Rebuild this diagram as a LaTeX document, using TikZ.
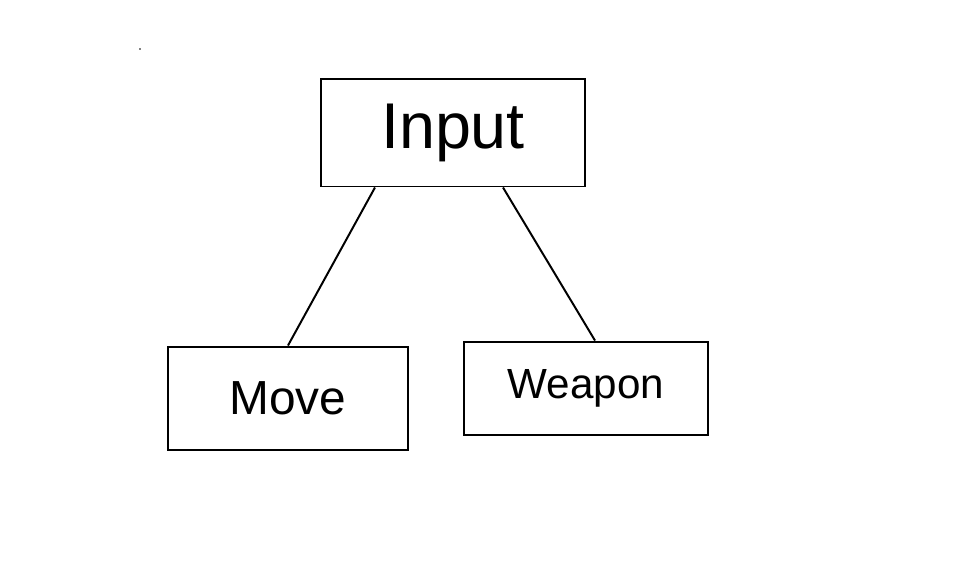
\documentclass[tikz,border=0pt]{standalone}
\usepackage{fontspec}
\setmainfont{Liberation Sans}

\begin{document}
\begin{tikzpicture}[x=0.025cm,y=-0.025cm]
  \useasboundingbox (0,0) rectangle (963,571);
  \tikzstyle{every node}=[draw, line width=1.4pt, inner sep=0pt]
  \tikzstyle{edge from parent}=[draw, line width=1.4pt]
  \tikzstyle{level 1}=[level distance=6.5cm, sibling distance=7.45cm]
  \fill (140,49) circle (0.9);
  \node (input) at (453,133) [minimum width=6.575cm, minimum height=2.675cm, font=\fontsize{46}{52}\selectfont] {Input}
    child[edge from parent path={([xshift=-1.95cm]\tikzparentnode.south) -- (\tikzchildnode.north)}]
      {node (move) [xshift=-0.4cm, yshift=-0.125cm, minimum width=6cm, minimum height=2.575cm, font=\fontsize{34}{40}\selectfont] {Move}}
    child[edge from parent path={([xshift=1.25cm]\tikzparentnode.south) -- ([xshift=0.225cm]\tikzchildnode.north)}]
      {node (weapon) [xshift=-0.4cm, yshift=0.125cm, minimum width=6.1cm, minimum height=2.325cm, font=\fontsize{30}{36}\selectfont] {Weapon}};
\end{tikzpicture}
\end{document}
